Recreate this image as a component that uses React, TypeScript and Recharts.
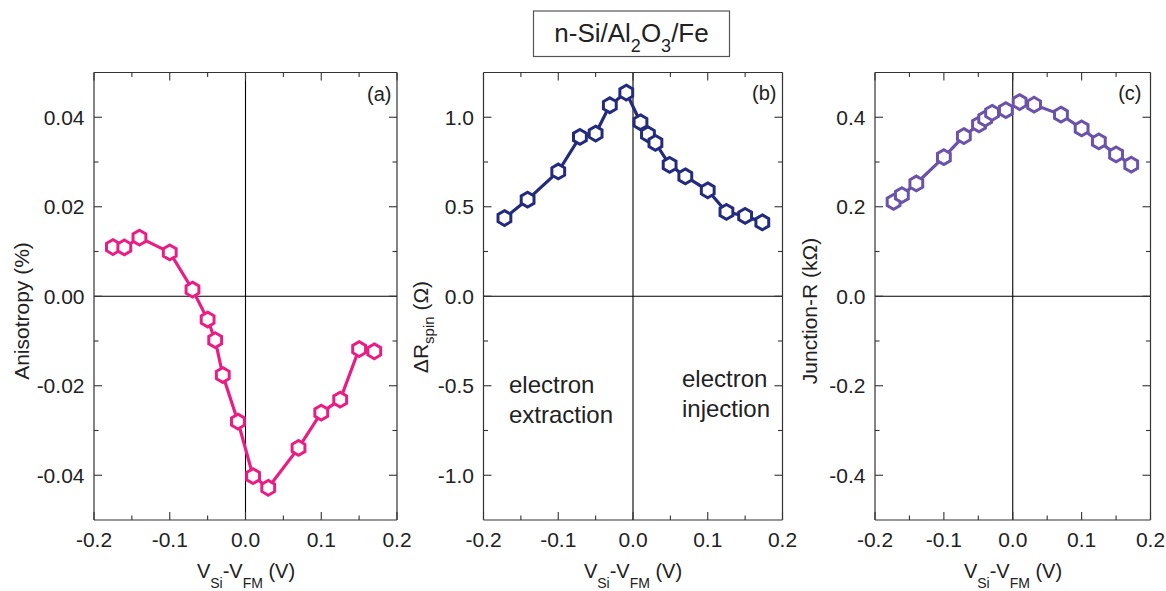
import React from 'react';
import { LineChart, Line, XAxis, YAxis, ReferenceLine } from 'recharts';

const FONT = '"Liberation Sans", Arial, Helvetica, sans-serif';
const FRAME = '#333';

// Bias V_Si - V_FM (V) and measured quantities for each panel
const biasA = [-0.175, -0.16, -0.14, -0.1, -0.07, -0.05, -0.04, -0.03, -0.01, 0.01, 0.03, 0.07, 0.1, 0.125, 0.15, 0.17];
const anisotropy = [0.011, 0.0109, 0.0131, 0.0098, 0.0015, -0.0052, -0.0098, -0.0176, -0.028, -0.0402, -0.0428, -0.0339, -0.026, -0.0231, -0.0118, -0.0123];

const biasB = [-0.172, -0.141, -0.1, -0.071, -0.05, -0.031, -0.009, 0.01, 0.02, 0.03, 0.049, 0.07, 0.1, 0.125, 0.15, 0.173];
const deltaRspin = [0.437, 0.54, 0.697, 0.89, 0.909, 1.067, 1.138, 0.972, 0.905, 0.857, 0.734, 0.67, 0.592, 0.471, 0.449, 0.413];

const biasC = [-0.173, -0.161, -0.14, -0.1, -0.071, -0.049, -0.04, -0.03, -0.01, 0.01, 0.031, 0.07, 0.1, 0.125, 0.15, 0.172];
const junctionR = [0.211, 0.226, 0.252, 0.311, 0.358, 0.384, 0.397, 0.41, 0.416, 0.434, 0.428, 0.406, 0.375, 0.346, 0.317, 0.294];

// Tick positions (major + minor)
const xTicks = [-0.2, -0.15, -0.1, -0.05, 0, 0.05, 0.1, 0.15, 0.2];
const yTicksA = [-0.04, -0.03, -0.02, -0.01, 0, 0.01, 0.02, 0.03, 0.04];
const yTicksB = [-1, -0.75, -0.5, -0.25, 0, 0.25, 0.5, 0.75, 1];
const yTicksC = [-0.4, -0.3, -0.2, -0.1, 0, 0.1, 0.2, 0.3, 0.4];

const COLOR_A = '#E91E84';
const COLOR_B = '#232B7E';
const COLOR_C = '#6B52AA';

const TICK_FONT = 21;
const PLOT_TOP = 72.5;
const PLOT_BOTTOM = 520;
const HEIGHT = 591;

type Side = 'left' | 'right' | 'top' | 'bottom';

const makeTick = (side: Side, step: number, digits: number) => (props: any) => {
  const { x, y, payload, index } = props;
  const v = payload.value as number;
  const major = Math.abs(v / step - Math.round(v / step)) < 1e-6;
  const len = major ? 8 : 4.5;
  let line: React.ReactNode = null;
  let label: React.ReactNode = null;
  const txt = v.toFixed(digits);
  if (side === 'left') {
    line = <line x1={x} y1={y} x2={x + len} y2={y} stroke={FRAME} strokeWidth={1.1} />;
    if (major)
      label = (
        <text x={x - 9.5} y={y + 7.5} textAnchor="end" fontSize={TICK_FONT} fontFamily={FONT} fill="#222">
          {txt}
        </text>
      );
  } else if (side === 'right') {
    line = <line x1={x} y1={y} x2={x - len} y2={y} stroke={FRAME} strokeWidth={1.1} />;
  } else if (side === 'bottom') {
    line = <line x1={x} y1={y} x2={x} y2={y - len} stroke={FRAME} strokeWidth={1.1} />;
    if (major)
      label = (
        <text x={x} y={y + 26.5} textAnchor="middle" fontSize={TICK_FONT} fontFamily={FONT} fill="#222">
          {txt}
        </text>
      );
  } else {
    line = <line x1={x} y1={y} x2={x} y2={y + len} stroke={FRAME} strokeWidth={1.1} />;
  }
  return (
    <g key={`${side}-${index}`}>
      {line}
      {label}
    </g>
  );
};

const HexDot = (props: any) => {
  const { cx, cy, color } = props;
  if (cx == null || cy == null) return null;
  const r = 7.4;
  const pts = [0, 1, 2, 3, 4, 5]
    .map((k) => {
      const a = (Math.PI / 180) * (-90 + 60 * k);
      return `${cx + r * Math.cos(a)},${cy + r * Math.sin(a)}`;
    })
    .join(' ');
  return <polygon points={pts} fill="#fff" stroke={color} strokeWidth={3} />;
};

interface PanelProps {
  left: number;
  width: number;
  plotLeft: number;
  plotRight: number;
  xs: number[];
  ys: number[];
  color: string;
  yDomain: [number, number];
  yTicks: number[];
  yStep: number;
  yDigits: number;
}

function Panel({ left, width, plotLeft, plotRight, xs, ys, color, yDomain, yTicks, yStep, yDigits }: PanelProps) {
  const data = xs.map((v, i) => ({ v, y: ys[i] }));
  const margin = {
    top: PLOT_TOP - 1,
    bottom: HEIGHT - PLOT_BOTTOM - 1,
    left: plotLeft - left - 1,
    right: left + width - plotRight - 1,
  };
  const axisLine = { stroke: FRAME, strokeWidth: 1.2 };
  return (
    <div style={{ position: 'absolute', left, top: 0, width, height: HEIGHT }}>
      <LineChart width={width} height={HEIGHT} data={data} margin={margin}>
        <XAxis
          xAxisId="b"
          dataKey="v"
          type="number"
          orientation="bottom"
          domain={[-0.2, 0.2]}
          allowDataOverflow
          ticks={xTicks}
          interval={0}
          height={1}
          tickSize={0}
          tickMargin={0}
          tickLine={false}
          axisLine={axisLine}
          tick={makeTick('bottom', 0.1, 1)}
        />
        <XAxis
          xAxisId="t"
          dataKey="v"
          type="number"
          orientation="top"
          domain={[-0.2, 0.2]}
          allowDataOverflow
          ticks={xTicks}
          interval={0}
          height={1}
          tickSize={0}
          tickMargin={0}
          tickLine={false}
          axisLine={axisLine}
          tick={makeTick('top', 0.1, 1)}
        />
        <YAxis
          yAxisId="l"
          type="number"
          orientation="left"
          domain={yDomain}
          allowDataOverflow
          ticks={yTicks}
          interval={0}
          width={1}
          tickSize={0}
          tickMargin={0}
          tickLine={false}
          axisLine={axisLine}
          tick={makeTick('left', yStep, yDigits)}
        />
        <YAxis
          yAxisId="r"
          type="number"
          orientation="right"
          domain={yDomain}
          allowDataOverflow
          ticks={yTicks}
          interval={0}
          width={1}
          tickSize={0}
          tickMargin={0}
          tickLine={false}
          axisLine={axisLine}
          tick={makeTick('right', yStep, yDigits)}
        />
        <ReferenceLine xAxisId="b" yAxisId="l" x={0} stroke="#000" strokeWidth={1.1} />
        <ReferenceLine xAxisId="b" yAxisId="l" y={0} stroke="#000" strokeWidth={1.1} />
        <Line
          xAxisId="b"
          yAxisId="l"
          dataKey="y"
          type="linear"
          stroke={color}
          strokeWidth={3.2}
          isAnimationActive={false}
          dot={(p: any) => <HexDot key={`d-${p.index}`} cx={p.cx} cy={p.cy} color={color} />}
          activeDot={false}
        />
      </LineChart>
    </div>
  );
}

function XTitle({ cx }: { cx: number }) {
  return (
    <text x={cx} y={578} textAnchor="middle" fontSize={20} fontFamily={FONT} fill="#222">
      V<tspan dy={10} fontSize={14}>Si</tspan>
      <tspan dy={-10}>-V</tspan>
      <tspan dy={10} fontSize={14}>FM</tspan>
      <tspan dy={-10}> (V)</tspan>
    </text>
  );
}

export default function App() {
  return (
    <div style={{ position: 'absolute', left: 0, top: 0, width: 1166, height: HEIGHT, background: '#fff', overflow: 'hidden' }}>
      <Panel left={0} width={420} plotLeft={94} plotRight={397} xs={biasA} ys={anisotropy} color={COLOR_A}
        yDomain={[-0.05, 0.05]} yTicks={yTicksA} yStep={0.02} yDigits={2} />
      <Panel left={420} width={380} plotLeft={483.5} plotRight={782.5} xs={biasB} ys={deltaRspin} color={COLOR_B}
        yDomain={[-1.25, 1.25]} yTicks={yTicksB} yStep={0.5} yDigits={1} />
      <Panel left={800} width={366} plotLeft={875} plotRight={1150.5} xs={biasC} ys={junctionR} color={COLOR_C}
        yDomain={[-0.5, 0.5]} yTicks={yTicksC} yStep={0.2} yDigits={1} />

      <svg width={1166} height={HEIGHT} style={{ position: 'absolute', left: 0, top: 0, pointerEvents: 'none' }}>
        {/* sample label */}
        <rect x={533.5} y={11} width={196} height={45.5} fill="#fff" stroke="#555" strokeWidth={1.2} />
        <text x={631.5} y={42} textAnchor="middle" fontSize={26} fontFamily={FONT} fill="#222">
          n-Si/Al<tspan dy={10} fontSize={18}>2</tspan>
          <tspan dy={-10}>O</tspan>
          <tspan dy={10} fontSize={18}>3</tspan>
          <tspan dy={-10}>/Fe</tspan>
        </text>

        {/* panel letters */}
        <text x={391.5} y={101} textAnchor="end" fontSize={20} fontFamily={FONT} fill="#222">(a)</text>
        <text x={776.5} y={100} textAnchor="end" fontSize={20} fontFamily={FONT} fill="#222">(b)</text>
        <text x={1141.5} y={100} textAnchor="end" fontSize={20} fontFamily={FONT} fill="#222">(c)</text>

        {/* y-axis titles */}
        <text transform="translate(29,311) rotate(-90)" textAnchor="middle" fontSize={21} fontFamily={FONT} fill="#222">
          Anisotropy (%)
        </text>
        <text transform="translate(428,327) rotate(-90)" textAnchor="middle" fontSize={21} fontFamily={FONT} fill="#222">
          ΔR<tspan dy={6} fontSize={15}>spin</tspan>
          <tspan dy={-6}> (Ω)</tspan>
        </text>
        <text transform="translate(817,311) rotate(-90)" textAnchor="middle" fontSize={21} fontFamily={FONT} fill="#222">
          Junction-R (kΩ)
        </text>

        {/* x-axis titles */}
        <XTitle cx={246} />
        <XTitle cx={633} />
        <XTitle cx={1013} />

        {/* annotations in panel (b) */}
        <text x={509} y={393} fontSize={24} fontFamily={FONT} fill="#222">electron</text>
        <text x={509} y={423} fontSize={24} fontFamily={FONT} fill="#222">extraction</text>
        <text x={682} y={387} fontSize={24} fontFamily={FONT} fill="#222">electron</text>
        <text x={682} y={417} fontSize={24} fontFamily={FONT} fill="#222">injection</text>
      </svg>
    </div>
  );
}
